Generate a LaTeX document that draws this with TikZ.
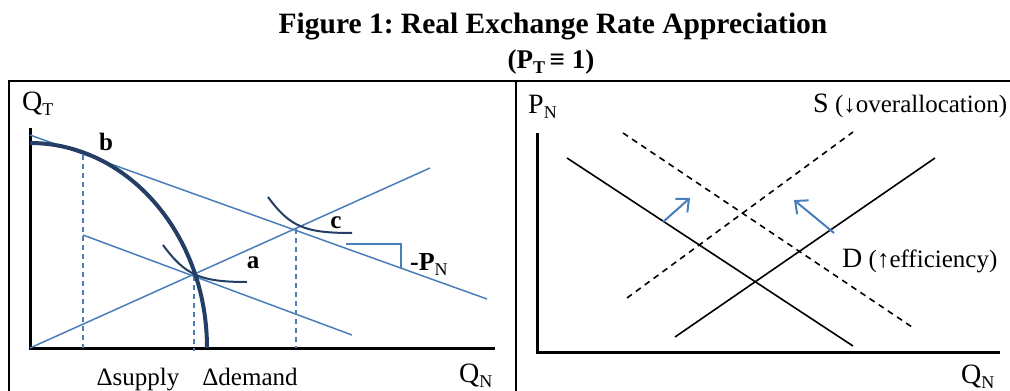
\documentclass[tikz,border=0pt]{standalone}
\usepackage{fontspec}
\setmainfont{Liberation Serif}
\usetikzlibrary{arrows.meta}
\definecolor{lineblue}{RGB}{74,126,187}
\definecolor{ppfblue}{RGB}{36,62,102}
\newcommand\fsz[1]{\fontsize{#1}{#1}\selectfont}
\newcommand\lowsub[1]{\raisebox{-0.2em}{\fsz{18}#1}}
\frenchspacing
\tikzset{
  lbl/.style={inner sep=0pt, anchor=base west, font=\fsz{25}},
  axlbl/.style={inner sep=0pt, anchor=base west, font=\fsz{28}},
  ptlbl/.style={inner sep=0pt, anchor=base, font=\fsz{25}\bfseries},
  frame/.style={line width=1.4pt, black},
  axis/.style={line width=3pt, black},
  bline/.style={line width=1.5pt, lineblue},
  bdash/.style={line width=2pt, lineblue, dash pattern=on 5pt off 4pt},
  ppf/.style={line width=4pt, ppfblue},
  indiff/.style={line width=2pt, ppfblue},
  kline/.style={line width=1.6pt, black},
  kdash/.style={line width=1.6pt, black, dash pattern=on 6pt off 5pt},
  shiftarrow/.style={line width=2pt, lineblue, -{Straight Barb[length=10pt,width=18pt,line width=2pt]}}
}
\begin{document}
\begin{tikzpicture}[x=1pt,y=-1pt]
\useasboundingbox (0,0) rectangle (1010,391);
% title
\node[ptlbl, font=\fsz{29.5}\bfseries] (title) at (553,33) {Figure 1: Real Exchange Rate Appreciation};
\node[ptlbl, font=\fsz{27}\bfseries] (subtitle) at (551,68) {(P\lowsub{\bfseries T}\,≡ 1)};
% frames
\draw[frame] (9,391) -- (9,81) -- (1010,81);
\draw[frame] (516,81) -- (516,391);

% ---------- left panel ----------
\coordinate (lo) at (30,348);
\coordinate (ltop) at (30,128);
\coordinate (lend) at (495,348);
\draw[axis] (ltop) -- (lo) -- (lend);
\node[axlbl] (qt) at (22,110) {Q\lowsub{T}};
\node[axlbl] (qnl) at (459,382) {Q\lowsub{N}};
\node[lbl, anchor=base] (dsup) at (138,385) {Δsupply};
\node[lbl, anchor=base] (ddem) at (250,385) {Δdemand};

% points
\coordinate (b) at (83,155);
\coordinate (a) at (194,276);
\coordinate (c) at (296,229);
% dashed verticals
\draw[bdash] (b) -- (83,348);
\draw[bdash] (a) -- (194,351);
\draw[bdash] (c) -- (296,348);
% blue lines
\coordinate (p1s) at (30,135);
\coordinate (p1e) at (487,299);
\draw[bline] (p1s) -- (p1e);
\coordinate (rayend) at (430,168);
\draw[bline] (lo) -- (rayend);
\coordinate (p2s) at (83,235);
\coordinate (p2e) at (352,335);
\draw[bline] (p2s) -- (p2e);
% slope triangle
\coordinate (t1) at (346,244);
\coordinate (t2) at (401,244);
\coordinate (t3) at (401,268);
\draw[bline] (t1) -- (t2) -- (t3);
\node[lbl, font=\fsz{26}\bfseries] (pn) at (410,270) {-P\lowsub{\mdseries N}};
% PPF
\draw[ppf] (30,143) arc[start angle=-90, end angle=0, x radius=177, y radius=205];
% indifference curves
\draw[indiff] (163,245) .. controls (185,275) and (200,282) .. (247,282);
\draw[indiff] (268,197) .. controls (290,227) and (305,233) .. (352,233);
% point labels
\node[ptlbl] (lb) at (106,150) {b};
\node[ptlbl] (la) at (253,268) {a};
\node[ptlbl] (lc) at (336,228) {c};

% ---------- right panel ----------
\coordinate (ro) at (537,352);
\coordinate (rtop) at (537,133);
\coordinate (rend) at (1000,352);
\draw[axis] (rtop) -- (ro) -- (rend);
\node[axlbl] (pnr) at (528,113) {P\lowsub{N}};
\node[axlbl] (qnr) at (961,383) {Q\lowsub{N}};
% curves
\coordinate (d1) at (567,158);
\coordinate (d2) at (853,346);
\draw[kline] (d1) -- (d2);
\coordinate (s1) at (675,337);
\coordinate (s2) at (935,158);
\draw[kline] (s1) -- (s2);
\coordinate (dd1) at (623,133);
\coordinate (dd2) at (912,327);
\draw[kdash] (dd1) -- (dd2);
\coordinate (sd1) at (627,298);
\coordinate (sd2) at (853,132);
\draw[kdash] (sd1) -- (sd2);
% shift arrows
\coordinate (a1s) at (663,222);
\coordinate (a1e) at (690,198);
\draw[shiftarrow] (a1s) -- (a1e);
\coordinate (a2s) at (834,233);
\coordinate (a2e) at (794,200);
\draw[shiftarrow] (a2s) -- (a2e);
% labels
\node[lbl] (slab) at (813,112) {{\fsz{28}S} (↓overallocation)};
\node[lbl] (dlab) at (842,267) {{\fsz{28}D} (↑efficiency)};
\end{tikzpicture}
\end{document}
